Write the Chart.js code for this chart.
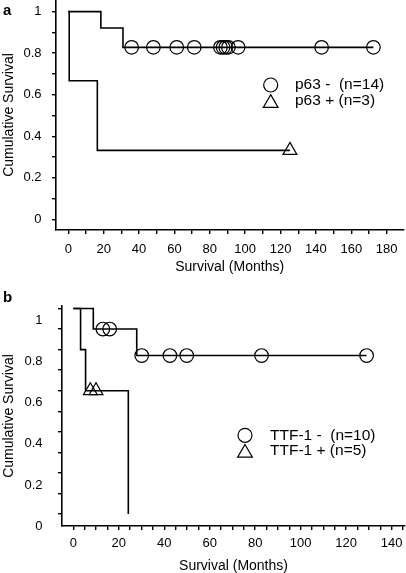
<!DOCTYPE html>
<html>
<head>
<meta charset="utf-8">
<script src="https://cdn.jsdelivr.net/npm/chart.js@4"></script>
<style>
  html, body { margin: 0; padding: 0; background: #fff; overflow: hidden; }
  #wrap { position: relative; width: 406px; height: 573px; overflow: hidden; }
  canvas { position: absolute; left: 0; }
  #chartA { top: 0; }
  #chartB { top: 290px; }
</style>
</head>
<body>
<div id="wrap">
  <canvas id="chartA" width="406" height="290"></canvas>
  <canvas id="chartB" width="406" height="290"></canvas>
</div>
<script>
// ---- panel a: p63 ----
const p63NegTimes = [0, 18.4, 30.9, 172.5];
const p63NegSurv = [1, 0.921, 0.828, 0.828];
const p63NegCensorTimes = [35.8, 48.1, 61.3, 71.2, 86, 87.5, 89, 90.5, 96, 143.2, 172.5];
const p63NegCensorSurv = [0.828, 0.828, 0.828, 0.828, 0.828, 0.828, 0.828, 0.828, 0.828, 0.828, 0.828];
const p63PosTimes = [0, 0.5, 16.4, 125.3];
const p63PosSurv = [1, 0.667, 0.332, 0.332];
const p63PosCensorTimes = [125.3];
const p63PosCensorSurv = [0.332];

// ---- panel b: TTF-1 ----
const ttfNegTimes = [0, 8.8, 27.9, 129];
const ttfNegSurv = [1, 0.9, 0.771, 0.771];
const ttfNegCensorTimes = [13, 16, 30.1, 42.5, 49.9, 82.8, 129];
const ttfNegCensorSurv = [0.9, 0.9, 0.771, 0.771, 0.771, 0.771, 0.771];
const ttfPosTimes = [0, 3.2, 5.4, 24.2];
const ttfPosSurv = [1, 0.8, 0.6, 0];
const ttfPosCensorTimes = [7.5, 10];
const ttfPosCensorSurv = [0.6, 0.6];

// ---- ticks ----
const xTicksA = [0, 10, 20, 30, 40, 50, 60, 70, 80, 90, 100, 110, 120, 130, 140, 150, 160, 170, 180];
const xTicksB = [0, 5, 10, 15, 20, 25, 30, 35, 40, 45, 50, 55, 60, 65, 70, 75, 80, 85, 90, 95, 100, 105, 110, 115, 120, 125, 130, 135, 140, 145];
const yTicks = [0, 0.1, 0.2, 0.3, 0.4, 0.5, 0.6, 0.7, 0.8, 0.9, 1];
const yTickLabels = ['0', '', '0.2', '', '0.4', '', '0.6', '', '0.8', '', '1'];

const FONT = '"Liberation Sans", Arial, Helvetica, sans-serif';

const kmLegend = {
  id: 'kmLegend',
  afterDraw(chart, args, o) {
    const ctx = chart.ctx;
    ctx.save();
    ctx.fillStyle = '#000';
    ctx.textBaseline = 'middle';
    ctx.textAlign = 'left';
    ctx.font = 'bold 15px ' + FONT;
    ctx.fillText(o.letter, o.letterX, o.letterY);
    ctx.font = '15.5px ' + FONT;
    const marks = chart.data.datasets.filter(d => d.isMarker);
    marks.forEach((d, i) => {
      const y = o.y + i * o.gap;
      const r = d.pointStyle === 'triangle' ? 8.5 : 7;
      const cy = d.pointStyle === 'triangle' ? y + r / 4 : y;
      ctx.fillStyle = 'rgba(0,0,0,0)';
      ctx.strokeStyle = '#000';
      ctx.lineWidth = 1.2;
      Chart.helpers.drawPoint(ctx, { pointStyle: d.pointStyle, radius: r, rotation: 0, borderWidth: 1.2 }, o.markerX, cy);
      ctx.fillStyle = '#000';
      ctx.fillText(d.label, o.textX, y);
    });
    ctx.restore();
  }
};

function groupSets(label, times, surv, cTimes, cSurv, style) {
  return [
    {
      label: label,
      data: times.map((t, i) => ({ x: t, y: surv[i] })),
      stepped: 'before',
      borderColor: '#000',
      borderWidth: 1.6,
      pointRadius: 0,
      fill: false
    },
    {
      label: label,
      isMarker: true,
      data: cTimes.map((t, i) => ({ x: t, y: cSurv[i] })),
      showLine: false,
      pointStyle: style,
      pointRadius: style === 'triangle' ? 8 : 6.8,
      borderColor: '#000',
      backgroundColor: 'rgba(0,0,0,0)',
      pointBorderWidth: 1.2
    }
  ];
}

function kmChart(id, s) {
  return new Chart(document.getElementById(id), {
    type: 'line',
    data: { datasets: s.datasets },
    plugins: [kmLegend],
    options: {
      responsive: false,
      animation: false,
      events: [],
      layout: { autoPadding: false, padding: s.padding },
      plugins: {
        legend: { display: false },
        tooltip: { enabled: false },
        kmLegend: s.legend
      },
      scales: {
        x: {
          type: 'linear',
          min: s.xMin,
          max: s.xMax,
          afterBuildTicks: sc => { sc.ticks = s.xTicks.map(v => ({ value: v })); },
          afterFit: sc => { sc.height = s.xHeight; sc.paddingLeft = 0; sc.paddingRight = 0; },
          border: { display: true, color: '#000', width: 1.6 },
          grid: { drawOnChartArea: false, drawTicks: true, tickLength: 4, color: '#000', lineWidth: 1.4 },
          ticks: {
            autoSkip: false,
            maxRotation: 0,
            padding: s.xTickPad,
            color: '#000',
            font: { family: FONT, size: 13 },
            callback: v => (v % 20 === 0 ? String(v) : '')
          },
          title: {
            display: true,
            text: 'Survival (Months)',
            color: '#000',
            font: { family: FONT, size: 14 },
            padding: { top: 0, bottom: s.xTitlePad }
          }
        },
        y: {
          type: 'linear',
          min: s.yMin,
          max: s.yMax,
          afterBuildTicks: sc => { sc.ticks = yTicks.map(v => ({ value: v })); },
          afterFit: sc => { sc.width = s.yWidth; sc.paddingTop = 0; sc.paddingBottom = 0; },
          border: { display: true, color: '#000', width: 1.6 },
          grid: { drawOnChartArea: false, drawTicks: true, tickLength: 4, color: '#000', lineWidth: 1.4 },
          ticks: {
            autoSkip: false,
            padding: s.yTickPad,
            labelOffset: s.yLabelOffset,
            color: '#000',
            font: { family: FONT, size: 13 },
            callback: (v, i) => yTickLabels[i]
          },
          title: {
            display: true,
            text: 'Cumulative Survival',
            color: '#000',
            font: { family: FONT, size: 14 },
            padding: { top: 1, bottom: 0 }
          }
        }
      }
    }
  });
}

kmChart('chartA', {
  datasets: [
    ...groupSets('p63 -  (n=14)', p63NegTimes, p63NegSurv, p63NegCensorTimes, p63NegCensorSurv, 'circle'),
    ...groupSets('p63 + (n=3)', p63PosTimes, p63PosSurv, p63PosCensorTimes, p63PosCensorSurv, 'triangle')
  ],
  padding: { left: 0, top: 0, right: 2.7, bottom: 0 },
  xMin: -6.97, xMax: 189.4, xTicks: xTicksA,
  yMin: -0.0515, yMax: 1.056,
  xHeight: 60, yWidth: 56,
  xTickPad: 8, yTickPad: 10.5, yLabelOffset: 0, xTitlePad: 14.5,
  legend: { letter: 'a', letterX: 3, letterY: 11, markerX: 270.7, textX: 295, y: 85, gap: 16 }
});

kmChart('chartB', {
  datasets: [
    ...groupSets('TTF-1 -  (n=10)', ttfNegTimes, ttfNegSurv, ttfNegCensorTimes, ttfNegCensorSurv, 'circle'),
    ...groupSets('TTF-1 + (n=5)', ttfPosTimes, ttfPosSurv, ttfPosCensorTimes, ttfPosCensorSurv, 'triangle')
  ],
  padding: { left: 0, top: 16, right: 1, bottom: 0 },
  xMin: -4.97, xMax: 145.9, xTicks: xTicksB,
  yMin: -0.058, yMax: 1.012,
  xHeight: 54, yWidth: 62,
  xTickPad: 6, yTickPad: 15.5, yLabelOffset: 12, xTitlePad: 5,
  legend: { letter: 'b', letterX: 3, letterY: 7.5, markerX: 245, textX: 270, y: 145.3, gap: 15.5 }
});
</script>
</body>
</html>
